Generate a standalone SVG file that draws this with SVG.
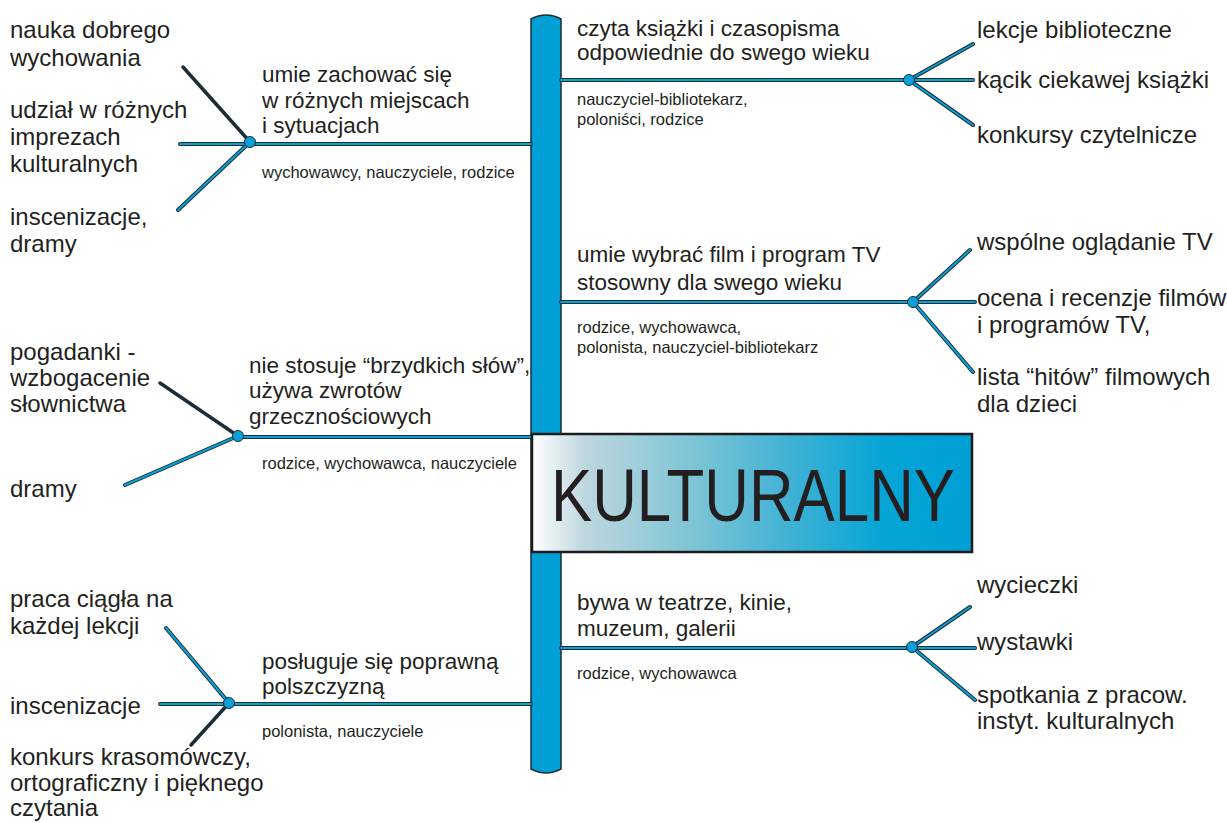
<svg xmlns="http://www.w3.org/2000/svg" width="1227" height="823" viewBox="0 0 1227 823">
<defs>
<linearGradient id="boxGrad" x1="0" y1="0" x2="1" y2="0">
<stop offset="0" stop-color="#ffffff"/>
<stop offset="0.12" stop-color="#bdd6de"/>
<stop offset="0.35" stop-color="#82c6d6"/>
<stop offset="0.6" stop-color="#3cb0d5"/>
<stop offset="0.8" stop-color="#05a5d6"/>
<stop offset="1" stop-color="#00a0d6"/>
</linearGradient>
<style>
.t{font-family:"Liberation Sans",Arial,sans-serif;fill:#231f20}
.b{font-size:24px}
.m{font-size:22.5px}
.s{font-size:16.5px}
.tubeO{stroke:#1c2d36;stroke-width:4;stroke-linecap:round;fill:none}
.tubeI{stroke:#0a9fd6;stroke-width:2;stroke-linecap:round;fill:none}
.dark{stroke:#1c2d36;stroke-width:3.5;stroke-linecap:round;fill:none}
.dot{fill:#0aa0d8;stroke:#1c2d36;stroke-width:1}
</style>
</defs>
<rect width="1227" height="823" fill="#ffffff"/>

<g id="spine">
<path d="M531,19 Q546,11 561,19 V769 Q546,777 531,769 Z" fill="#00a0d6" stroke="#1c2d36" stroke-width="1.5"/>
</g>

<g id="connectors">
<g class="dark">
<path d="M183,67 L250,142"/>
<path d="M160,383 L238,436"/>
<path d="M229,703 L191,745"/>
</g>
<g class="tubeO">
<path d="M180,144 H531 M250,142 L178,210"/>
<path d="M561,80 H973 M973,44 L909,80 L973,125"/>
<path d="M561,302 H975 M970,250 L913,302 L973,372"/>
<path d="M238,437 H531 M238,436 L125,485"/>
<path d="M160,704 H531 M166,628 L229,703"/>
<path d="M561,648 H975 M970,607 L912,647 L975,700"/>
</g>
<g class="tubeI">
<path d="M180,144 H531 M250,142 L178,210"/>
<path d="M561,80 H973 M973,44 L909,80 L973,125"/>
<path d="M561,302 H975 M970,250 L913,302 L973,372"/>
<path d="M238,437 H531 M238,436 L125,485"/>
<path d="M160,704 H531 M166,628 L229,703"/>
<path d="M561,648 H975 M970,607 L912,647 L975,700"/>
</g>
<circle class="dot" cx="250" cy="142" r="5.5"/>
<circle class="dot" cx="909" cy="80" r="5.5"/>
<circle class="dot" cx="913" cy="302" r="5.5"/>
<circle class="dot" cx="238" cy="436" r="5.5"/>
<circle class="dot" cx="229" cy="703" r="5.5"/>
<circle class="dot" cx="912" cy="647" r="5.5"/>
</g>

<g id="center">
<rect x="532" y="434" width="440" height="118" fill="url(#boxGrad)" stroke="#1c1c1c" stroke-width="2.5"/>
<text class="t" x="551" y="521" font-size="75" textLength="404" lengthAdjust="spacingAndGlyphs" fill="#23282b">KULTURALNY</text>
</g>

<g id="b1">
<text class="t m" x="262" y="82">umie zachować się</text>
<text class="t m" x="262" y="108">w różnych miejscach</text>
<text class="t m" x="262" y="133">i sytuacjach</text>
<text class="t s" x="262" y="178">wychowawcy, nauczyciele, rodzice</text>
</g>
<g id="b1-leaves">
<text class="t b" x="10" y="38">nauka dobrego</text>
<text class="t b" x="10" y="66">wychowania</text>
<text class="t b" x="10" y="118">udział w różnych</text>
<text class="t b" x="10" y="145">imprezach</text>
<text class="t b" x="10" y="172">kulturalnych</text>
<text class="t b" x="10" y="225">inscenizacje,</text>
<text class="t b" x="10" y="252">dramy</text>
</g>

<g id="b2">
<text class="t m" x="577" y="36">czyta książki i czasopisma</text>
<text class="t m" x="577" y="60">odpowiednie do swego wieku</text>
<text class="t s" x="577" y="105">nauczyciel-bibliotekarz,</text>
<text class="t s" x="577" y="125">poloniści, rodzice</text>
</g>
<g id="b2-leaves">
<text class="t b" x="977" y="38">lekcje biblioteczne</text>
<text class="t b" x="977" y="88">kącik ciekawej książki</text>
<text class="t b" x="977" y="143">konkursy czytelnicze</text>
</g>

<g id="b3">
<text class="t m" x="577" y="262">umie wybrać film i program TV</text>
<text class="t m" x="577" y="290">stosowny dla swego wieku</text>
<text class="t s" x="577" y="333">rodzice, wychowawca,</text>
<text class="t s" x="577" y="353">polonista, nauczyciel-bibliotekarz</text>
</g>
<g id="b3-leaves">
<text class="t b" x="977" y="250">wspólne oglądanie TV</text>
<text class="t b" x="977" y="306">ocena i recenzje filmów</text>
<text class="t b" x="977" y="333">i programów TV,</text>
<text class="t b" x="977" y="385">lista “hitów” filmowych</text>
<text class="t b" x="977" y="412">dla dzieci</text>
</g>

<g id="b4">
<text class="t m" x="249" y="373">nie stosuje “brzydkich słów”,</text>
<text class="t m" x="249" y="398">używa zwrotów</text>
<text class="t m" x="249" y="424">grzecznościowych</text>
<text class="t s" x="262" y="469">rodzice, wychowawca, nauczyciele</text>
</g>
<g id="b4-leaves">
<text class="t b" x="10" y="360">pogadanki -</text>
<text class="t b" x="10" y="386">wzbogacenie</text>
<text class="t b" x="10" y="412">słownictwa</text>
<text class="t b" x="10" y="497">dramy</text>
</g>

<g id="b5">
<text class="t m" x="262" y="669">posługuje się poprawną</text>
<text class="t m" x="262" y="694">polszczyzną</text>
<text class="t s" x="262" y="737">polonista, nauczyciele</text>
</g>
<g id="b5-leaves">
<text class="t b" x="10" y="607">praca ciągła na</text>
<text class="t b" x="10" y="634">każdej lekcji</text>
<text class="t b" x="10" y="714">inscenizacje</text>
<text class="t b" x="10" y="765">konkurs krasomówczy,</text>
<text class="t b" x="10" y="791">ortograficzny i pięknego</text>
<text class="t b" x="10" y="816">czytania</text>
</g>

<g id="b6">
<text class="t m" x="577" y="610">bywa w teatrze, kinie,</text>
<text class="t m" x="577" y="636">muzeum, galerii</text>
<text class="t s" x="577" y="679">rodzice, wychowawca</text>
</g>
<g id="b6-leaves">
<text class="t b" x="977" y="593">wycieczki</text>
<text class="t b" x="977" y="650">wystawki</text>
<text class="t b" x="977" y="703">spotkania z pracow.</text>
<text class="t b" x="977" y="729">instyt. kulturalnych</text>
</g>
</svg>
